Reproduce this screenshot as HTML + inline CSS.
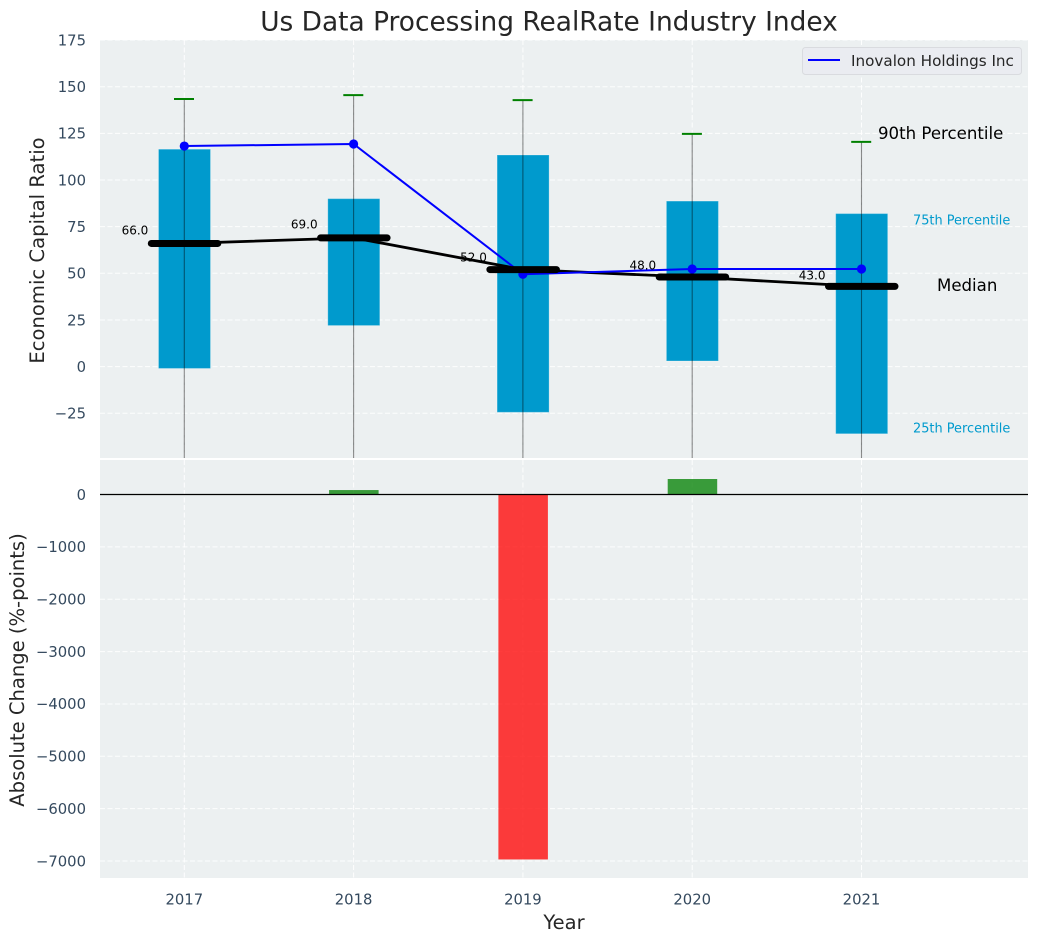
<!DOCTYPE html>
<html>
<head>
<meta charset="utf-8">
<title>Us Data Processing RealRate Industry Index</title>
<style>
html,body{margin:0;padding:0;background:#fff;width:1039px;height:942px;overflow:hidden}
svg{display:block;font-family:"DejaVu Sans","Liberation Sans",sans-serif}
</style>
</head>
<body>
<svg id="chart" xmlns="http://www.w3.org/2000/svg" width="1039" height="942" viewBox="0 0 1039 942"></svg>
<script>
const years = [2017, 2018, 2019, 2020, 2021];
const p90 = [143.4, 145.5, 142.8, 124.7, 120.4];
const p75 = [116.5, 90, 113.4, 88.7, 82];
const medians = [66, 69, 52, 48, 43];
const p25 = [-1, 22, -24.5, 3, -36];
const p10 = [-70, -65, -80, -60, -85];
const company = [118.2, 119.3, 49.5, 52.3, 52.3];
const changes = [0, 85, -6970, 296, 0];
const topTicks = [175, 150, 125, 100, 75, 50, 25, 0, -25];
const bottomTicks = [0, -1000, -2000, -3000, -4000, -5000, -6000, -7000];

const NS = 'http://www.w3.org/2000/svg';
const svg = document.getElementById('chart');
const L = 100, R = 1028, T1 = 40, B1 = 458, T2 = 460, B2 = 878;
const x = v => 184.3 + 169.3 * (v - 2017);
const y1 = v => 366.6 - 1.866 * v;
const y2 = v => 494.5 - 0.05236 * v;
const fmtTick = v => (v < 0 ? '\u2212' + Math.abs(v) : String(v));

function make(tag, attrs, parent, text) {
  const el = document.createElementNS(NS, tag);
  for (const k in attrs) el.setAttribute(k, attrs[k]);
  if (text !== undefined) el.textContent = text;
  (parent || svg).appendChild(el);
  return el;
}

const defs = make('defs', {});
const clip = make('clipPath', {id: 'top-clip'}, defs);
make('rect', {x: L, y: T1, width: R - L, height: B1 - T1}, clip);

/* panels */
const topPanel = make('rect', {x: L, y: T1, width: R - L, height: B1 - T1, fill: '#ecf0f1'});


const bottomPanel = make('rect', {x: L, y: T2, width: R - L, height: B2 - T2, fill: '#ecf0f1'});



/* grid */
const gridStyle = {stroke: '#ffffff', 'stroke-width': 1, 'stroke-dasharray': '5 2.5', 'stroke-opacity': 0.9};
function grid(x1, y1_, x2, y2_, name) {
  const g = make('line', Object.assign({x1: x1, y1: y1_, x2: x2, y2: y2_}, gridStyle));
  
  
}
topTicks.forEach(t => grid(L, y1(t), R, y1(t), 'top-grid-line'));
bottomTicks.forEach(t => grid(L, y2(t), R, y2(t), 'bottom-grid-line'));
years.forEach(yr => {
  grid(x(yr), T1, x(yr), B1, 'top-vertical-grid-line');
  grid(x(yr), T2, x(yr), B2, 'bottom-vertical-grid-line');
});

/* top chart marks */
const marks = make('g', {'clip-path': 'url(#top-clip)'});
years.forEach((yr, i) => {
  const box = make('rect', {
    x: x(yr) - 25.8, y: y1(p75[i]), width: 52, height: y1(p25[i]) - y1(p75[i]),
    fill: '#009acd', stroke: '#ffffff', 'stroke-opacity': 0.25, 'stroke-width': 1
  }, marks);
  
  
});
years.forEach((yr, i) => {
  const w = make('line', {
    x1: x(yr), x2: x(yr), y1: y1(p90[i]), y2: y1(p10[i]),
    stroke: '#000000', 'stroke-opacity': 0.45, 'stroke-width': 1.1
  }, marks);
  
  
  const c = make('line', {
    x1: x(yr) - 10.3, x2: x(yr) + 9.7, y1: y1(p90[i]), y2: y1(p90[i]),
    stroke: '#008000', 'stroke-width': 2
  }, marks);
  
  
});

const medianLine = make('polyline', {
  points: years.map((yr, i) => x(yr) + ',' + y1(medians[i])).join(' '),
  fill: 'none', stroke: '#000000', 'stroke-width': 2.8
}, marks);



const companyLine = make('polyline', {
  points: years.map((yr, i) => x(yr) + ',' + y1(company[i])).join(' '),
  fill: 'none', stroke: '#0000ff', 'stroke-width': 2
}, marks);



years.forEach((yr, i) => {
  const dot = make('circle', {cx: x(yr), cy: y1(company[i]), r: 4.6, fill: '#0000ff'}, marks);
  
  
});

years.forEach((yr, i) => {
  const m = make('line', {
    x1: x(yr) - 33, x2: x(yr) + 33.5, y1: y1(medians[i]), y2: y1(medians[i]),
    stroke: '#000000', 'stroke-width': 7, 'stroke-linecap': 'round'
  }, marks);
  
  
});

years.forEach((yr, i) => {
  const lab = make('text', {
    x: x(yr) - 36, y: y1(medians[i] * 1.05) - 3, 'text-anchor': 'end',
    'font-size': 12, fill: '#000000'
  }, svg, medians[i].toFixed(1));
  
  
});

/* change bars */
years.forEach((yr, i) => {
  if (!changes[i]) return;
  const v = changes[i];
  const top = Math.min(y2(v), y2(0));
  const bar = make('rect', {
    x: x(yr) - 24.5, y: top, width: 49.5, height: Math.abs(y2(v) - y2(0)),
    fill: v > 0 ? '#008000' : '#ff0000', 'fill-opacity': 0.76
  });
  
  
});
const zero = make('line', {x1: L, x2: R, y1: y2(0), y2: y2(0), stroke: '#000000', 'stroke-width': 1.2});



/* tick labels */
const tickColor = '#34495e';
topTicks.forEach(t => {
  const el = make('text', {x: 86, y: y1(t) + 5.3, 'text-anchor': 'end', 'font-size': 14.8, fill: tickColor}, svg, fmtTick(t));
  
  
});
bottomTicks.forEach(t => {
  const el = make('text', {x: 86, y: y2(t) + 5.3, 'text-anchor': 'end', 'font-size': 14.8, fill: tickColor}, svg, fmtTick(t));
  
  
});
years.forEach(yr => {
  const el = make('text', {x: x(yr), y: 904.5, 'text-anchor': 'middle', 'font-size': 14.8, fill: tickColor}, svg, String(yr));
  
  
});

/* titles */
const title = make('text', {x: 549, y: 30.5, 'text-anchor': 'middle', 'font-size': 26.4, fill: '#262626'}, svg, 'Us Data Processing RealRate Industry Index');


const xt = make('text', {x: 564, y: 929, 'text-anchor': 'middle', 'font-size': 19.5, fill: '#262626'}, svg, 'Year');


const yt1 = make('text', {transform: 'translate(44,250.5) rotate(-90)', 'text-anchor': 'middle', 'font-size': 19.6, fill: '#262626'}, svg, 'Economic Capital Ratio');


const yt2 = make('text', {transform: 'translate(24,670) rotate(-90)', 'text-anchor': 'middle', 'font-size': 19.55, fill: '#262626'}, svg, 'Absolute Change (%-points)');



/* annotations */
const a90 = make('text', {x: 878, y: 139, 'font-size': 16.6, fill: '#000000'}, svg, '90th Percentile');


const a75 = make('text', {x: 913, y: 224.5, 'font-size': 12.9, fill: '#009acd'}, svg, '75th Percentile');


const aMed = make('text', {x: 937, y: 291, 'font-size': 16.6, fill: '#000000'}, svg, 'Median');


const a25 = make('text', {x: 913, y: 432.5, 'font-size': 12.9, fill: '#009acd'}, svg, '25th Percentile');



/* legend */
const legend = make('g', {});


make('rect', {x: 802.5, y: 47.5, width: 219, height: 27, rx: 3, fill: '#eaecf1', stroke: '#d9dbdf', 'stroke-width': 1}, legend);
const legendLine = make('line', {x1: 808, x2: 840, y1: 60, y2: 60, stroke: '#0000ff', 'stroke-width': 2}, legend);


const legendText = make('text', {x: 851, y: 66, 'font-size': 15.2, fill: '#262626'}, legend, 'Inovalon Holdings Inc');


</script>
</body>
</html>
